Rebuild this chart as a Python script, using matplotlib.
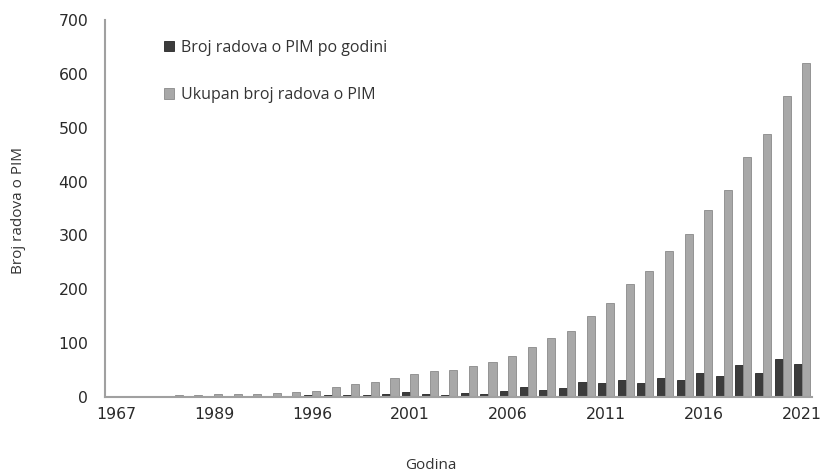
import numpy as np
import matplotlib
matplotlib.use('Agg')
import matplotlib.pyplot as plt

# year labels (only every 5th one is printed on the axis)
years = ['1967', '', '', '', '', '1989', '', '', '', '', '1996',
         '1997', '1998', '1999', '2000', '2001', '2002', '2003', '2004', '2005',
         '2006', '2007', '2008', '2009', '2010', '2011', '2012', '2013', '2014',
         '2015', '2016', '2017', '2018', '2019', '2020', '2021']

# papers per year
per_year = [1, 0, 0, 1, 0, 1, 0, 0, 1, 1, 3,
            3, 3, 3, 6, 9, 5, 4, 7, 6,
            12, 18, 13, 17, 28, 26, 32, 26, 36,
            31, 45, 39, 60, 44, 70, 62]

# cumulative number of papers
total = [1, 1, 1, 3, 3, 6, 6, 6, 7, 10, 11,
         19, 25, 28, 35, 42, 48, 51, 57, 65,
         77, 93, 109, 123, 151, 175, 209, 234, 272,
         302, 348, 385, 446, 489, 559, 620]

label1 = 'Broj radova o PIM po godini'
label2 = 'Ukupan broj radova o PIM'

#create figure
fig = plt.figure(figsize=(8.23, 4.74), dpi=100)
ax = fig.add_axes([0.1276, 0.1624, 0.859, 0.7954])

x = np.arange(len(years))
width = 0.41

#dark and gray bars side by side
ax.bar(x - width/2, per_year, width, color='#3c3c3c', edgecolor='#262626', linewidth=0.6, label=label1)
ax.bar(x + width/2, total, width, color='#a8a8a8', edgecolor='#8a8a8a', linewidth=0.6, label=label2)

ax.set_ylim(0, 700)
ax.set_xlim(-0.56, 35.5)
ax.set_yticks(range(0, 701, 100))
ax.set_xticks(x[::5])
ax.set_xticklabels([years[i] for i in x[::5]])

#axis styling
for s in ['top', 'right']:
    ax.spines[s].set_visible(False)
for s in ['left', 'bottom']:
    ax.spines[s].set_color('#a0a0a0')
    ax.spines[s].set_linewidth(1.5)
ax.tick_params(axis='both', length=0, labelsize=11.3, colors='#2a2a2a')
ax.tick_params(axis='y', pad=12)
ax.tick_params(axis='x', pad=7)

fig.text(0.022, 0.555, 'Broj radova o PIM', rotation=90, ha='center', va='center',
         fontsize=11, color='#333333', family='Open Sans')
fig.text(0.523, 0.018, 'Godina', ha='center', va='center',
         fontsize=11, color='#333333', family='Open Sans')

#legend
leg = ax.legend(loc='upper left', bbox_to_anchor=(0.063, 0.985), frameon=False,
                handlelength=0.6, handleheight=0.6, handletextpad=0.5,
                labelspacing=1.95, prop={'family': 'Open Sans', 'size': 11.5})
for t in leg.get_texts():
    t.set_color('#333333')

fig.savefig('out.png', dpi=100)
